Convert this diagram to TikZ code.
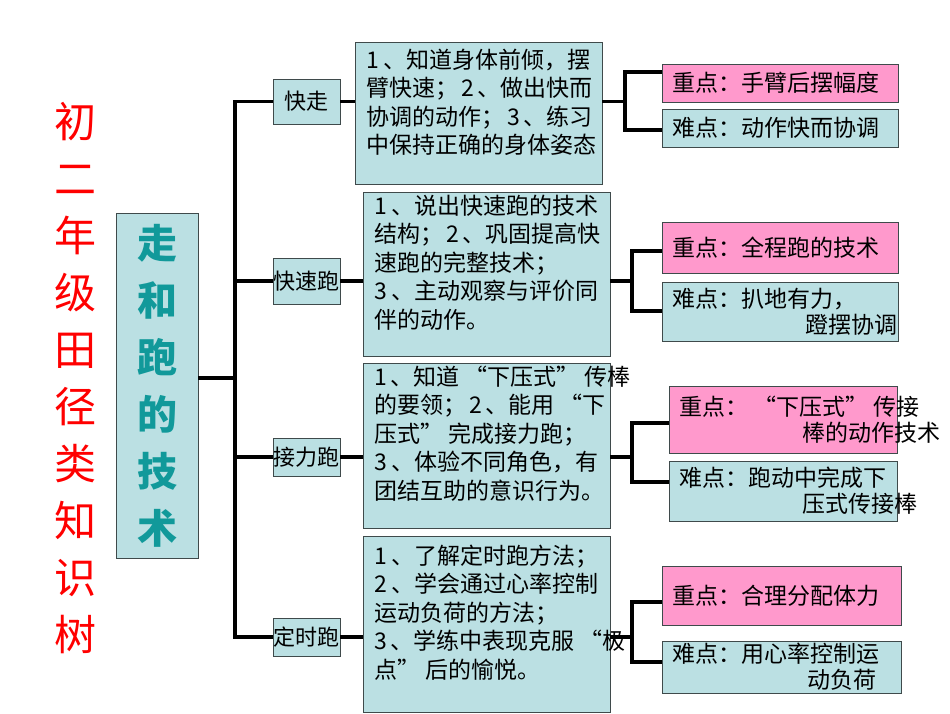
\documentclass[tikz,border=0pt]{standalone}
\usepackage{fontspec}
\setmainfont{Noto Sans CJK SC}
\definecolor{boxfill}{HTML}{BBE0E3}
\definecolor{keypink}{HTML}{FF99CC}
\definecolor{labelteal}{HTML}{11999A}
\definecolor{edgegray}{HTML}{3F4A4B}
% full-width quotes
\newcommand{\lquo}{\kern.22em“}
\newcommand{\rquo}{”\kern.22em}

\begin{document}
\begin{tikzpicture}[x=1pt, y=-1pt,
    link/.style={line width=3.5pt},
    cell/.style={draw=edgegray, line width=0.9pt, fill=boxfill, inner sep=0pt},
    topic/.style={cell, minimum width=67pt, font=\fontsize{22}{26}\selectfont},
    detail/.style={cell, inner xsep=11pt, font=\fontsize{23}{28.5}\selectfont},
    note/.style={cell, inner xsep=10pt, font=\fontsize{23}{26}\selectfont},
    keynote/.style={note, fill=keypink}]
  \useasboundingbox (0,0) rectangle (950,713);

  % Title column
  \node[text=red, align=center, font=\fontsize{42}{57}\selectfont] (title) at (75,378)
    {初\\二\\年\\级\\田\\径\\类\\知\\识\\树};

  % Root box
  \node[cell, minimum width=82pt, minimum height=345pt, align=center, text=labelteal,
    font=\fontsize{40}{57}\selectfont\bfseries] (root) at (157,385.5)
    {走\\和\\跑\\的\\技\\术};

  % Topics
  \node[topic, minimum height=45pt] (l1) at (306.5,101.5) {快走};
  \node[topic, minimum height=46pt] (l2) at (306.5,281) {快速跑};
  \node[topic, minimum height=38pt] (l3) at (306.5,457) {接力跑};
  \node[topic, minimum height=38pt] (l4) at (306.5,637) {定时跑};

  % Goals
  \node[detail] (d1) at (478.5,113) {\parbox[c][142pt][t]{225pt}{\vspace*{7pt}%
    1~、知道身体前倾，摆\\臂快速；~2~、做出快而\\协调的动作；~3~、练习\\中保持正确的身体姿态}};
  \node[detail] (d2) at (486.5,274) {\parbox[c][164pt][t]{225pt}{\vspace*{3pt}%
    1~、说出快速跑的技术\\结构；~2~、巩固提高快\\速跑的完整技术；\\3~、主动观察与评价同\\伴的动作。}};
  \node[detail] (d3) at (486.5,445.5) {\parbox[c][165pt][t]{225pt}{\vspace*{3pt}%
    1~、知道\lquo 下压式\rquo 传棒\\的要领；~2~、能用\lquo 下\\压式\rquo 完成接力跑；\\3~、体验不同角色，有\\团结互助的意识行为。}};
  \node[detail] (d4) at (486.5,624) {\parbox[c][176pt][t]{225pt}{\vspace*{9pt}%
    1~、了解定时跑方法；\\2~、学会通过心率控制\\运动负荷的方法；\\3~、学练中表现克服\lquo 极\\点\rquo 后的愉悦。}};

  % Key points and difficulties
  \node[keynote, minimum height=38pt] (k1) at (780,83) {\parbox{216pt}{重点：手臂后摆幅度}};
  \node[note, minimum height=38pt] (f1) at (780,128) {\parbox{216pt}{难点：动作快而协调}};
  \node[keynote, minimum height=51pt] (k2) at (780,247.5) {\parbox{216pt}{重点：全程跑的技术}};
  \node[note, minimum height=59pt] (f2) at (780,311.5)
    {\parbox{216pt}{难点：扒地有力，\\\hspace*{133pt}蹬摆协调}};
  \node[keynote, minimum height=67pt] (k3) at (783,419.5)
    {\parbox{208pt}{重点：\lquo 下压式\rquo 传接\\\hspace*{123pt}棒的动作技术}};
  \node[note, minimum height=60pt] (f3) at (783,491)
    {\parbox{208pt}{难点：跑动中完成下\\\hspace*{123pt}压式传接棒}};
  \node[keynote, minimum height=59pt] (k4) at (781.5,595.5) {\parbox{219pt}{重点：合理分配体力}};
  \node[note, minimum height=52pt] (f4) at (781.5,667)
    {\parbox{219pt}{难点：用心率控制运\\\hspace*{135pt}动负荷}};

  % Trunk
  \coordinate (trunk) at (235,378);
  \draw[link] (root.east |- trunk) -- (trunk);
  \draw[link] (l1.west) -| (trunk) |- (l4.west);
  \draw[link] (l2.west) -- (l2.west -| trunk);
  \draw[link] (l3.west) -- (l3.west -| trunk);
  \foreach \i in {1,...,4}
    \draw[link] (l\i.east) -- (d\i.west |- l\i.east);

  % Brackets
  \foreach \i/\bx/\ya/\yb in {1/625/72/130, 2/632/251/311, 3/632/423/482, 4/632/602/662} {
    \coordinate (b\i) at (\bx,\ya);
    \coordinate (c\i) at (\bx,\yb);
    \draw[link] (d\i.east |- l\i.east) -- (b\i |- l\i.east);
    \draw[link] (k\i.west |- b\i) -- (b\i) -- (c\i) -- (f\i.west |- c\i);
  }
\end{tikzpicture}
\end{document}
